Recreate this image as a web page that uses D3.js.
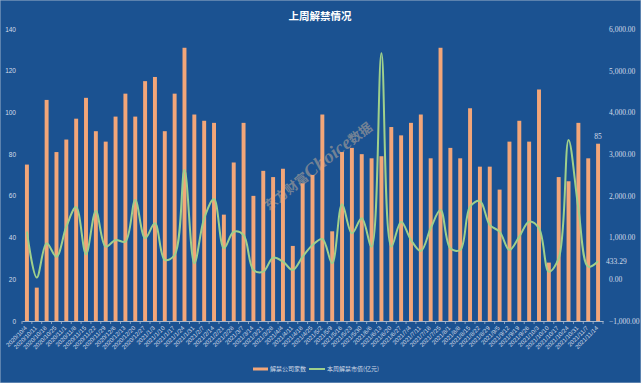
<!DOCTYPE html>
<html><head><meta charset="utf-8">
<script src="https://cdn.jsdelivr.net/npm/d3@7/dist/d3.min.js"></script>
<style>html,body{margin:0;padding:0;background:#1b5291;}svg{display:block}</style>
</head><body>
<svg id="chart" width="641" height="383"></svg>
<script>
const dates = ["2020/10/4","2020/10/11","2020/10/18","2020/10/25","2020/11/1","2020/11/8","2020/11/15","2020/11/22","2020/11/29","2020/12/6","2020/12/13","2020/12/20","2020/12/27","2021/1/3","2021/1/10","2021/1/17","2021/1/24","2021/1/31","2021/2/7","2021/2/14","2021/2/21","2021/2/28","2021/3/7","2021/3/14","2021/3/21","2021/3/28","2021/4/4","2021/4/11","2021/4/18","2021/4/25","2021/5/2","2021/5/9","2021/5/16","2021/5/23","2021/5/30","2021/6/6","2021/6/13","2021/6/20","2021/6/27","2021/7/4","2021/7/11","2021/7/18","2021/7/25","2021/8/1","2021/8/8","2021/8/15","2021/8/22","2021/8/29","2021/9/5","2021/9/12","2021/9/19","2021/9/26","2021/10/3","2021/10/10","2021/10/17","2021/10/24","2021/10/31","2021/11/7","2021/11/14"];
const companies = [75,16,106,81,87,97,107,91,86,98,109,98,115,117,91,109,131,99,96,95,51,76,95,60,72,69,73,36,66,70,99,43,81,83,80,78,79,93,89,95,99,78,131,83,78,102,74,74,63,86,96,86,111,28,69,67,95,78,85];
const marketValue = [1141,40,863,542,1261,1730,600,1637,782,942,902,1901,983,1342,463,583,2620,383,1462,1925,743,1141,1062,223,182,518,422,223,542,822,966,383,1798,1103,1462,782,5418,782,1381,942,679,1222,1661,743,702,1741,1877,1302,1141,702,1021,1381,1222,182,500,3340,1700,302,433.29];
const leftTicks = [0,20,40,60,80,100,120,140];
const rightTicks = [-1000,0,1000,2000,3000,4000,5000,6000];
const seriesNames = ["解禁公司家数","本周解禁市值(亿元)"];
const title = "上周解禁情况";
const watermark = ["东方财富","Choice","数据"];

const W = 641, H = 383;
const bg = "#1b5291", barColor = "#f2a679", lineColor = "#9fd08b", textColor = "#d4dce8";
const svg = d3.select("#chart");
svg.append("rect").attr("width", W).attr("height", H).attr("fill", bg)
  .attr("stroke", "#9db2cc").attr("stroke-width", 1);

const plot = {left: 22, right: 603, top: 29, bottom: 321};
const x = d3.scaleBand().domain(dates).range([plot.left, plot.right]).paddingInner(0.6).paddingOuter(0.3);
const yL = d3.scaleLinear().domain([0, 140]).range([plot.bottom, plot.top]);
const yR = d3.scaleLinear().domain([-1000, 6000]).range([plot.bottom, plot.top]);
const cx = d => x(d) + x.bandwidth() / 2;

// title
svg.append("text").attr("x", 320).attr("y", 20).attr("text-anchor", "middle")
  .attr("font-family", "'Noto Sans CJK SC', sans-serif").attr("font-weight", "bold")
  .attr("font-size", 10.5).attr("fill", "#ffffff").text(title);

// left axis
const gl = svg.append("g").attr("transform", `translate(${plot.left - 6},0)`)
  .call(d3.axisLeft(yL).tickValues(leftTicks).tickSize(0).tickPadding(0));
gl.select(".domain").remove();
gl.selectAll("text").attr("fill", textColor).attr("font-size", 6.5)
  .attr("font-family", "'Liberation Sans', Arial, sans-serif");

// right axis
const gr = svg.append("g").attr("transform", `translate(${plot.right + 6},0)`)
  .call(d3.axisRight(yR).tickValues(rightTicks).tickSize(0).tickPadding(0)
    .tickFormat(d3.format(",.2f")));
gr.select(".domain").remove();
gr.selectAll("text").attr("fill", textColor).attr("font-size", 7.5)
  .attr("font-family", "'Liberation Serif', serif");

// watermark
const wm = svg.append("text").attr("transform", "translate(321,170) rotate(-38)")
  .attr("text-anchor", "middle").attr("fill", "#8a8f96").attr("opacity", 0.8)
  .attr("font-family", "'Liberation Serif', 'Noto Sans CJK SC', serif").attr("font-weight", "bold");
wm.append("tspan").attr("font-size", 13).text(watermark[0]);
wm.append("tspan").attr("font-size", 19).attr("font-style", "italic").text(watermark[1]);
wm.append("tspan").attr("font-size", 13).text(watermark[2]);

// bars
svg.append("g").selectAll("rect").data(dates).join("rect")
  .attr("x", d => x(d)).attr("width", x.bandwidth())
  .attr("y", (d, i) => yL(companies[i]))
  .attr("height", (d, i) => yL(0) - yL(companies[i]))
  .attr("fill", barColor);

// x axis
const gx = svg.append("g").attr("transform", `translate(0,${plot.bottom})`)
  .call(d3.axisBottom(x).tickSize(0).tickPadding(0));
gx.select(".domain").attr("stroke", "#a9b8cc").attr("stroke-width", 1);
gx.selectAll(".tick text").attr("fill", textColor).attr("font-size", 6)
  .attr("font-family", "'Liberation Sans', Arial, sans-serif")
  .attr("text-anchor", "end").attr("dy", "0.35em")
  .attr("transform", "translate(-1,6) rotate(-45)");
const step = x.step();
const bounds = dates.map(d => x(d) - step * x.paddingInner() / 2).concat([x(dates[dates.length - 1]) + x.bandwidth() + step * x.paddingInner() / 2]);
svg.append("g").selectAll("line").data(bounds).join("line")
  .attr("x1", d => d).attr("x2", d => d)
  .attr("y1", plot.bottom).attr("y2", plot.bottom + 3)
  .attr("stroke", "#a9b8cc").attr("stroke-width", 0.8);

// line
const line = d3.line().x((d, i) => cx(dates[i])).y(d => yR(d)).curve(d3.curveCatmullRom.alpha(0.5));
svg.append("path").datum(marketValue).attr("d", line).attr("fill", "none")
  .attr("stroke", lineColor).attr("stroke-width", 2);

// data labels
const last = dates.length - 1;
svg.append("text").attr("x", cx(dates[last])).attr("y", yL(companies[last]) - 5)
  .attr("text-anchor", "middle").attr("fill", textColor).attr("font-size", 7.5)
  .attr("font-family", "'Liberation Serif', serif").text(companies[last]);
svg.append("text").attr("x", cx(dates[last]) + 8).attr("y", yR(marketValue[last]))
  .attr("dy", "0.35em").attr("fill", textColor).attr("font-size", 7.5)
  .attr("font-family", "'Liberation Serif', serif").text(d3.format(".2f")(marketValue[last]));

// legend
const lg = svg.append("g").attr("font-family", "'Noto Sans CJK SC', sans-serif")
  .attr("font-size", 6).attr("fill", textColor);
lg.append("line").attr("x1", 253).attr("x2", 268).attr("y1", 369).attr("y2", 369)
  .attr("stroke", barColor).attr("stroke-width", 3);
lg.append("text").attr("x", 270).attr("y", 369).attr("dy", "0.35em").text(seriesNames[0]);
lg.append("line").attr("x1", 309).attr("x2", 325).attr("y1", 369).attr("y2", 369)
  .attr("stroke", lineColor).attr("stroke-width", 2);
lg.append("text").attr("x", 327).attr("y", 369).attr("dy", "0.35em").text(seriesNames[1]);
</script>
</body></html>
